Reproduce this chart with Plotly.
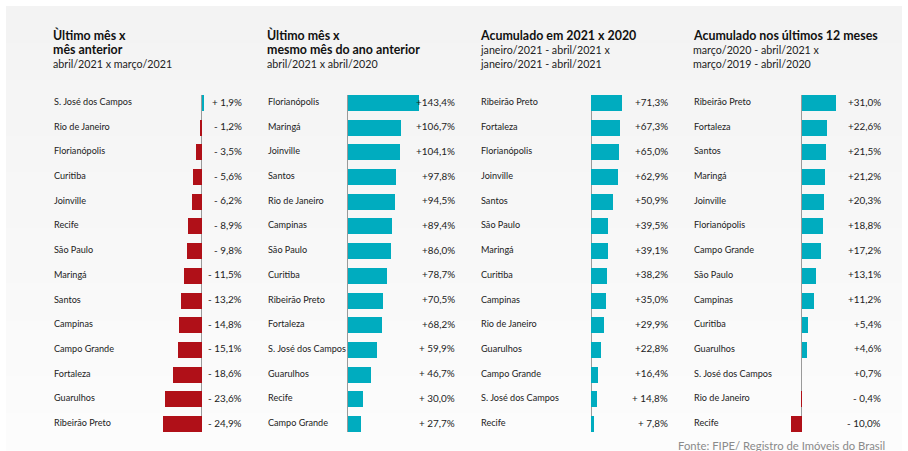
import plotly.graph_objects as go

W, H = 908, 451

# ---------------- data ----------------
titles = [
    ["Ùltimo mês x", "mês anterior"],
    ["Ùltimo mês x", "mesmo mês do ano anterior"],
    ["Acumulado em 2021 x 2020"],
    ["Acumulado nos últimos 12 meses"],
]
subtitles = [
    ["abril/2021 x março/2021"],
    ["abril/2021 x abril/2020"],
    ["janeiro/2021 - abril/2021 x", "janeiro/2021 - abril/2021"],
    ["março/2020 - abril/2021 x", "março/2019 - abril/2020"],
]

cities1 = ["S. José dos Campos", "Rio de Janeiro", "Florianópolis", "Curitiba", "Joinville",
           "Recife", "São Paulo", "Maringá", "Santos", "Campinas", "Campo Grande",
           "Fortaleza", "Guarulhos", "Ribeirão Preto"]
values1 = [1.9, -1.2, -3.5, -5.6, -6.2, -8.9, -9.8, -11.5, -13.2, -14.8, -15.1, -18.6, -23.6, -24.9]
labels1 = ["+ 1,9%", "- 1,2%", "- 3,5%", "- 5,6%", "- 6,2%", "- 8,9%", "- 9,8%", "- 11,5%",
           "- 13,2%", "- 14,8%", "- 15,1%", "- 18,6%", "- 23,6%", "- 24,9%"]

cities2 = ["Florianópolis", "Maringá", "Joinville", "Santos", "Rio de Janeiro", "Campinas",
           "São Paulo", "Curitiba", "Ribeirão Preto", "Fortaleza", "S. José dos Campos",
           "Guarulhos", "Recife", "Campo Grande"]
values2 = [143.4, 106.7, 104.1, 97.8, 94.5, 89.4, 86.0, 78.7, 70.5, 68.2, 59.9, 46.7, 30.0, 27.7]
labels2 = ["+143,4%", "+106,7%", "+104,1%", "+97,8%", "+94,5%", "+89,4%", "+86,0%", "+78,7%",
           "+70,5%", "+68,2%", "+ 59,9%", "+ 46,7%", "+ 30,0%", "+ 27,7%"]

cities3 = ["Ribeirão Preto", "Fortaleza", "Florianópolis", "Joinville", "Santos", "São Paulo",
           "Maringá", "Curitiba", "Campinas", "Rio de Janeiro", "Guarulhos", "Campo Grande",
           "S. José dos Campos", "Recife"]
values3 = [71.3, 67.3, 65.0, 62.9, 50.9, 39.5, 39.1, 38.2, 35.0, 29.9, 22.8, 16.4, 14.8, 7.8]
labels3 = ["+71,3%", "+67,3%", "+65,0%", "+62,9%", "+50,9%", "+39,5%", "+39,1%", "+38,2%",
           "+35,0%", "+29,9%", "+22,8%", "+16,4%", "+ 14,8%", "+ 7,8%"]

cities4 = ["Ribeirão Preto", "Fortaleza", "Santos", "Maringá", "Joinville", "Florianópolis",
           "Campo Grande", "São Paulo", "Campinas", "Curitiba", "Guarulhos",
           "S. José dos Campos", "Rio de Janeiro", "Recife"]
values4 = [31.0, 22.6, 21.5, 21.2, 20.3, 18.8, 17.2, 13.1, 11.2, 5.4, 4.6, 0.7, -0.4, -10.0]
labels4 = ["+31,0%", "+22,6%", "+21,5%", "+21,2%", "+20,3%", "+18,8%", "+17,2%", "+13,1%",
           "+11,2%", "+5,4%", "+4,6%", "+0,7%", "- 0,4%", "- 10,0%"]

source = "Fonte: FIPE/ Registro de Imóveis do Brasil"

panels = [(cities1, values1, labels1), (cities2, values2, labels2),
          (cities3, values3, labels3), (cities4, values4, labels4)]

# ---------------- layout geometry (pixels) ----------------
FONT = "Lato"
POS = "#00acbf"
NEG = "#b01018"
label_x = [52, 266, 479, 692]
value_right = [244, 457, 670, 883]
zero_px = [201.5, 347.5, 591.0, 801.7]
scale_px = [1.53, 0.50, 0.43, 1.12]
dom_px = [(150, 215), (335, 440), (580, 660), (780, 850)]
row0, rowN = 103.0, 424.0
nrows = 14
step = (rowN - row0) / (nrows - 1)
half = 8.0 / step  # half bar height in row units

fig = go.Figure()

# background card with soft vertical gradient
nb = 24
top_c, bot_c = (243, 243, 243), (252, 252, 252)
y0p, y1p = 6, 450
for i in range(nb):
    t = i / (nb - 1)
    c = tuple(int(round(top_c[k] + (bot_c[k] - top_c[k]) * t)) for k in range(3))
    ya = y0p + (y1p - y0p) * i / nb
    yb = y0p + (y1p - y0p) * (i + 1) / nb + 0.6
    fig.add_shape(type="rect", xref="paper", yref="paper", layer="below",
                  x0=6 / W, x1=902 / W, y0=1 - yb / H, y1=1 - ya / H,
                  line_width=0, fillcolor="rgb(%d,%d,%d)" % c)

ydom = [1 - (rowN + 8) / H, 1 - (row0 - 8) / H]
fig.update_layout(yaxis=dict(domain=ydom, range=[nrows - 1 + half, -half], visible=False,
                             fixedrange=True))

annotations = []
for p, (cities, vals, labs) in enumerate(panels):
    ax = "x" if p == 0 else "x%d" % (p + 1)
    axkey = "xaxis" if p == 0 else "xaxis%d" % (p + 1)
    d0, d1 = dom_px[p]
    lo = -(zero_px[p] - d0) / scale_px[p]
    hi = (d1 - zero_px[p]) / scale_px[p]
    fig.update_layout(**{axkey: dict(domain=[d0 / W, d1 / W], range=[lo, hi], anchor="y",
                                     showgrid=False, showticklabels=False, ticks="",
                                     zeroline=True, zerolinecolor="#9a9a9a", zerolinewidth=1,
                                     showline=False, fixedrange=True)})
    rows = list(range(len(cities)))
    fig.add_trace(go.Bar(
        x=vals, y=rows, orientation="h", xaxis=ax, yaxis="y", width=2 * half,
        marker=dict(color=[POS if v >= 0 else NEG for v in vals],
                    line=dict(width=0)),
        hoverinfo="skip", showlegend=False))
    for r, (c, lab) in enumerate(zip(cities, labs)):
        annotations.append(dict(x=label_x[p] / W, xref="paper", y=r - 0.06, yref="y",
                                text=c, showarrow=False, xanchor="left", yanchor="middle",
                                font=dict(family=FONT, size=9.1, color="#222222")))
        annotations.append(dict(x=value_right[p] / W, xref="paper", y=r - 0.06, yref="y",
                                text=lab, showarrow=False, xanchor="right", yanchor="middle",
                                font=dict(family=FONT, size=9.9, color="#222222")))
    # titles
    ty = 35
    for line in titles[p]:
        annotations.append(dict(x=label_x[p] / W - 0.001, xref="paper", y=1 - ty / H, yref="paper",
                                text="<b>%s</b>" % line, showarrow=False, xanchor="left",
                                yanchor="middle",
                                font=dict(family=FONT, size=12.4, color="#111111")))
        ty += 14.3
    for line in subtitles[p]:
        annotations.append(dict(x=label_x[p] / W - 0.001, xref="paper", y=1 - ty / H, yref="paper",
                                text=line, showarrow=False, xanchor="left", yanchor="middle",
                                font=dict(family=FONT, size=10.7, color="#222222")))
        ty += 14

annotations.append(dict(x=887 / W, xref="paper", y=1 - 445 / H, yref="paper", text=source,
                        showarrow=False, xanchor="right", yanchor="middle",
                        font=dict(family=FONT, size=11.3, color="#8a8a8a")))

fig.update_layout(width=W, height=H, margin=dict(l=0, r=0, t=0, b=0),
                  paper_bgcolor="white", plot_bgcolor="rgba(0,0,0,0)",
                  annotations=annotations, bargap=0, showlegend=False)

fig.write_html("out.html", config={"displayModeBar": False, "staticPlot": True},
               post_script="document.body.style.margin='0';document.body.style.overflow='hidden';")
